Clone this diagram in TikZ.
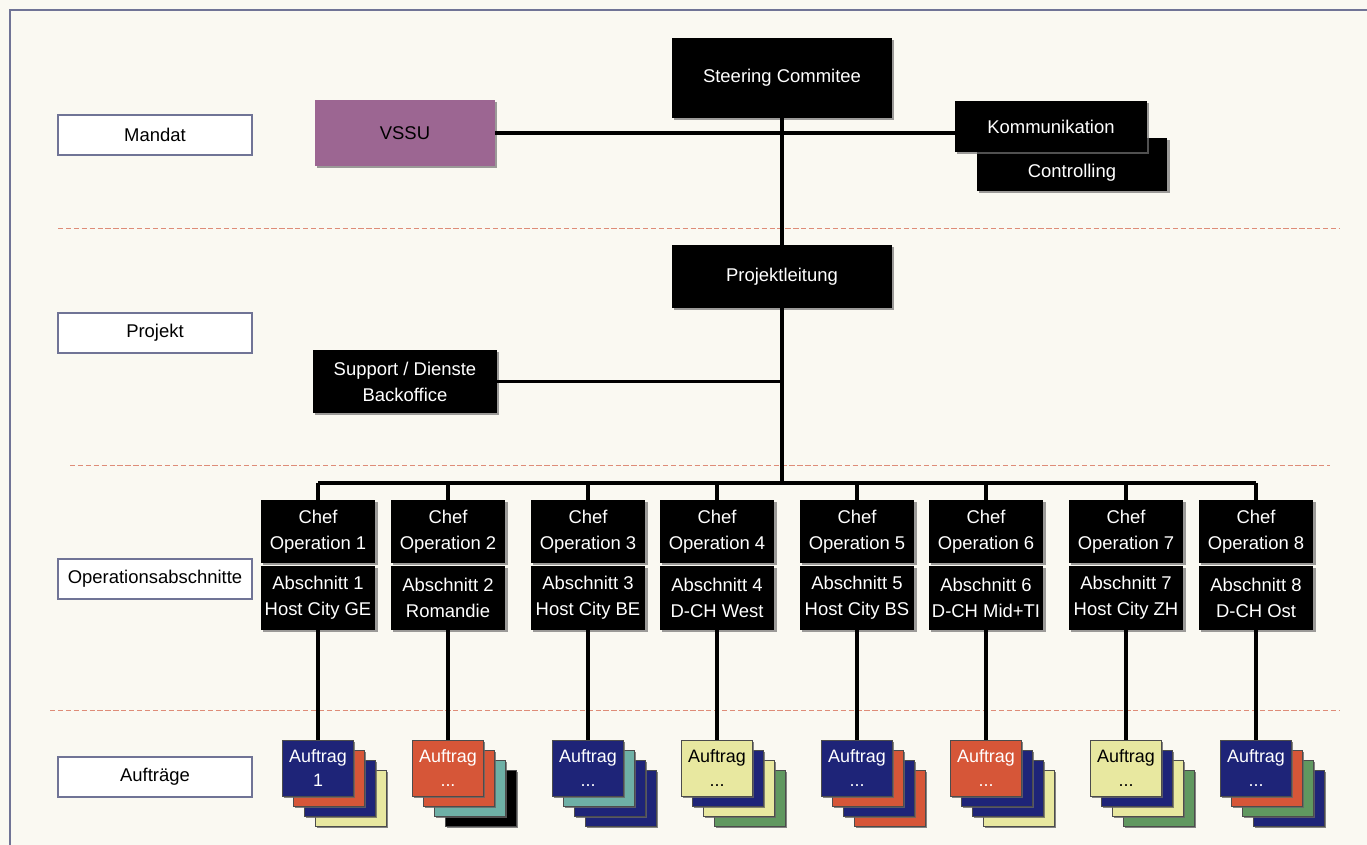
\documentclass[tikz,border=0pt]{standalone}
\usepackage{fontspec}
\setmainfont{Liberation Sans}
\usepackage{tikz}
\usetikzlibrary{positioning,shadows,calc}
\definecolor{paper}{RGB}{250,249,242}
\definecolor{framecol}{RGB}{112,116,150}
\definecolor{sepcol}{RGB}{222,140,120}
\definecolor{vssucol}{RGB}{156,102,146}
\definecolor{navyc}{RGB}{30,36,120}
\definecolor{redc}{RGB}{214,86,56}
\definecolor{tealc}{RGB}{110,176,166}
\definecolor{yellc}{RGB}{232,232,160}
\definecolor{greenc}{RGB}{96,152,96}
\newcommand{\boxfont}{\fontsize{10.5}{14.7}\selectfont}
\newcommand{\cardfont}{\fontsize{10.2}{13.6}\selectfont}
\newcommand{\etc}{...}
\tikzset{
  levelbox/.style={draw=framecol, fill=white, line width=0.6pt, minimum width=3.88cm,
    minimum height=0.8cm, font=\boxfont},
  orgbox/.style={fill=black, text=white, font=\boxfont, align=center, inner sep=0pt,
    drop shadow={shadow xshift=1.2pt, shadow yshift=-1.2pt, fill=black!55, opacity=.7}},
  chefbox/.style={orgbox, minimum width=2.3cm},
  card/.style={draw=black!70, line width=0.3pt, minimum width=1.42cm, minimum height=1.12cm,
    inner sep=0pt, font=\cardfont, align=center,
    drop shadow={shadow xshift=1pt, shadow yshift=-1pt, fill=black!60, opacity=.8}},
  link/.style={line width=2.2pt},
  sepline/.style={sepcol, line width=0.5pt, dash pattern=on 3pt off 1.5pt}
}
\begin{document}
\begin{tikzpicture}[x=0.02cm, y=-0.02cm]
\useasboundingbox (0,0) rectangle (1367,845);
\fill[paper] (0,0) rectangle (1367,845);
% frame and level separators
\draw[framecol, line width=0.6pt] (10,850) -- (10,10) -- (1370,10);
\draw[sepline] (58,228) -- (1340,228);
\draw[sepline] (70,465) -- (1330,465);
\draw[sepline] (50,710) -- (1340,710);
% levels
\node[levelbox] (mandat) at (155,135) {Mandat};
\node[levelbox] (projekt) at (155,333) {Projekt};
\node[levelbox] (opab) at (155,579) {Operationsabschnitte};
\node[levelbox] (auftraege) at (155,777) {Auftr\"age};
% top
\node[orgbox, minimum width=4.4cm, minimum height=1.6cm] (steering) at (782,78) {Steering Commitee};
\node[orgbox, fill=vssucol, text=black, minimum width=3.6cm, minimum height=1.32cm] (vssu) at (405,133) {VSSU};
\node[orgbox, minimum width=3.82cm, minimum height=1.06cm,
  label={[font=\boxfont, text=white, yshift=-0.17cm]center:Controlling}] (ctrl) at (1072,164.5) {};
\node[orgbox, minimum width=3.84cm, minimum height=1.02cm] (komm) at (1051,126.5) {Kommunikation};
\node[orgbox, minimum width=4.4cm, minimum height=1.26cm] (pl) at (782,276.5) {Projektleitung};
\node[orgbox, minimum width=3.68cm, minimum height=1.26cm] (support) at (405,381.5) {Support / Dienste\\Backoffice};
\coordinate (bus) at (782,483);
\draw[link] (vssu.east) -- (vssu.east -| komm.west);
\draw[link] (steering) -- (pl);
\draw[link] (pl) -- (bus);
\draw[link] (support.east) -- (support.east -| pl.south);
% operation sections and orders
\foreach \i/\cx/\place/\ca/\cb/\cc/\cd/\tc/\nr in {
  1/318/Host City GE/navyc/redc/navyc/yellc/white/1,
  2/448/Romandie/redc/redc/tealc/black/white/\etc,
  3/588/Host City BE/navyc/tealc/navyc/navyc/white/\etc,
  4/717/D-CH West/yellc/navyc/yellc/greenc/black/\etc,
  5/857/Host City BS/navyc/redc/navyc/redc/white/\etc,
  6/986/D-CH Mid+TI/redc/navyc/navyc/yellc/white/\etc,
  7/1126/Host City ZH/yellc/navyc/yellc/greenc/black/\etc,
  8/1256/D-CH Ost/navyc/redc/greenc/navyc/white/\etc}{
  \node[chefbox, minimum height=1.26cm] (chef\i) at (\cx,531.5) {Chef\\Operation \i};
  \node[chefbox, minimum height=1.28cm] (absch\i) at (\cx,598) {Abschnitt \i\\\place};
  \node[card, fill=\cd] (auftrag\i d) at (\cx+33,798) {};
  \node[card, fill=\cc] (auftrag\i c) at (\cx+22,788) {};
  \node[card, fill=\cb] (auftrag\i b) at (\cx+11,778) {};
  \node[card, fill=\ca, text=\tc] (auftrag\i) at (\cx,768) {Auftrag\\\nr};
  \draw[link] (chef\i.north) -- (chef\i.north |- bus);
  \draw[link] (absch\i.south) -- (auftrag\i.north);
}
\draw[link] (chef1.north |- bus) -- (chef8.north |- bus);
\end{tikzpicture}
\end{document}
